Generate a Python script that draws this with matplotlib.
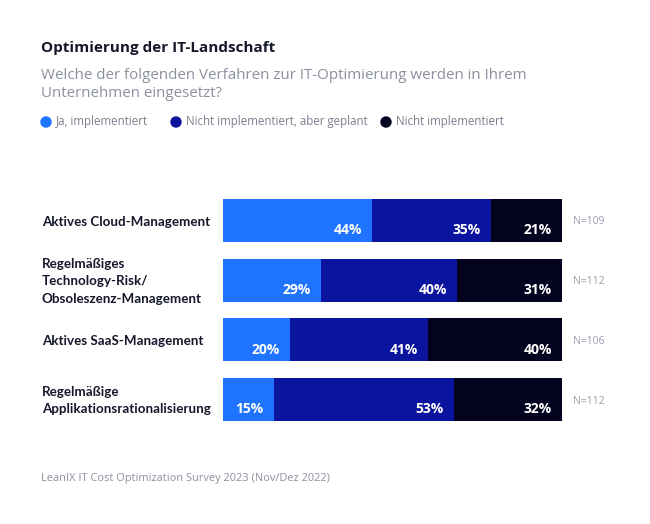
import matplotlib
matplotlib.use("Agg")
import matplotlib.pyplot as plt
import numpy as np

categories = ["Aktives Cloud-Management",
              "Regelmäßiges\nTechnology-Risk/\nObsoleszenz-Management",
              "Aktives SaaS-Management",
              "Regelmäßige\nApplikationsrationalisierung"]
series_names = ["Ja, implementiert", "Nicht implementiert, aber geplant", "Nicht implementiert"]
ja = [44, 29, 20, 15]
geplant = [35, 40, 41, 53]
nicht = [21, 31, 40, 32]
n_labels = ["N=109", "N=112", "N=106", "N=112"]
colors = ["#1f74ff", "#0a149e", "#03031f"]

FONT = "Open Sans"
plt.rcParams['font.family'] = [FONT, 'DejaVu Sans']

fig = plt.figure(figsize=(6.5, 5.24), dpi=100)
W, H = 650, 524
ax = fig.add_axes([223 / W, 1 - 421 / H, (562 - 223) / W, (421 - 199) / H])

data = np.array([ja, geplant, nicht], dtype=float)
totals = data.sum(axis=0)
widths = data / totals * 100
y = np.arange(len(categories))
left = np.zeros(len(categories))
bh = 43 / 60
for i in range(3):
    ax.barh(y, widths[i], left=left, height=bh, color=colors[i], edgecolor="none")
    for j in range(len(categories)):
        ax.text(left[j] + widths[i][j] - 3.0, y[j] + bh / 2 - 0.13, f"{int(data[i][j])}%",
                ha="right", va="baseline", color="white", fontsize=10, fontweight="bold")
    left += widths[i]

ax.set_xlim(0, 100)
ax.set_ylim(3 + bh / 2, -bh / 2)
ax.axis("off")

for j, cat in enumerate(categories):
    ax.text(-53.4, y[j] + 0.02, cat, ha="left", va="center", fontsize=9.6, fontweight="bold",
            color="#15172b", linespacing=1.52, family=["Lato", "DejaVu Sans"])
    ax.text(103.2, y[j], n_labels[j], ha="left", va="center_baseline", fontsize=7.5,
            color="#9a9eae")

fig.text(41 / W, 1 - 48 / H, "Optimierung der IT-Landschaft", ha="left", va="center",
         fontsize=11, fontweight="bold", color="#15172b")
fig.text(41 / W, 1 - 84.5 / H, "Welche der folgenden Verfahren zur IT-Optimierung werden in Ihrem\nUnternehmen eingesetzt?",
         ha="left", va="center", fontsize=10.9, color="#8b90a0", linespacing=1.28)

leg_x = [46, 176, 386]
for i, name in enumerate(series_names):
    fig.patches.append(matplotlib.patches.Ellipse((leg_x[i] / W, 1 - 122 / H), 10 / W, 10 / H,
                                                  transform=fig.transFigure, color=colors[i]))
    fig.text((leg_x[i] + 10) / W, 1 - 121 / H, name, ha="left", va="center", fontsize=8.3,
             color="#7a7e8e")

fig.text(41 / W, 1 - 479 / H, "LeanIX IT Cost Optimization Survey 2023 (Nov/Dez 2022)",
         ha="left", va="center", fontsize=7.9, color="#8b90a0")

fig.savefig("out.png", dpi=100, facecolor="white")
